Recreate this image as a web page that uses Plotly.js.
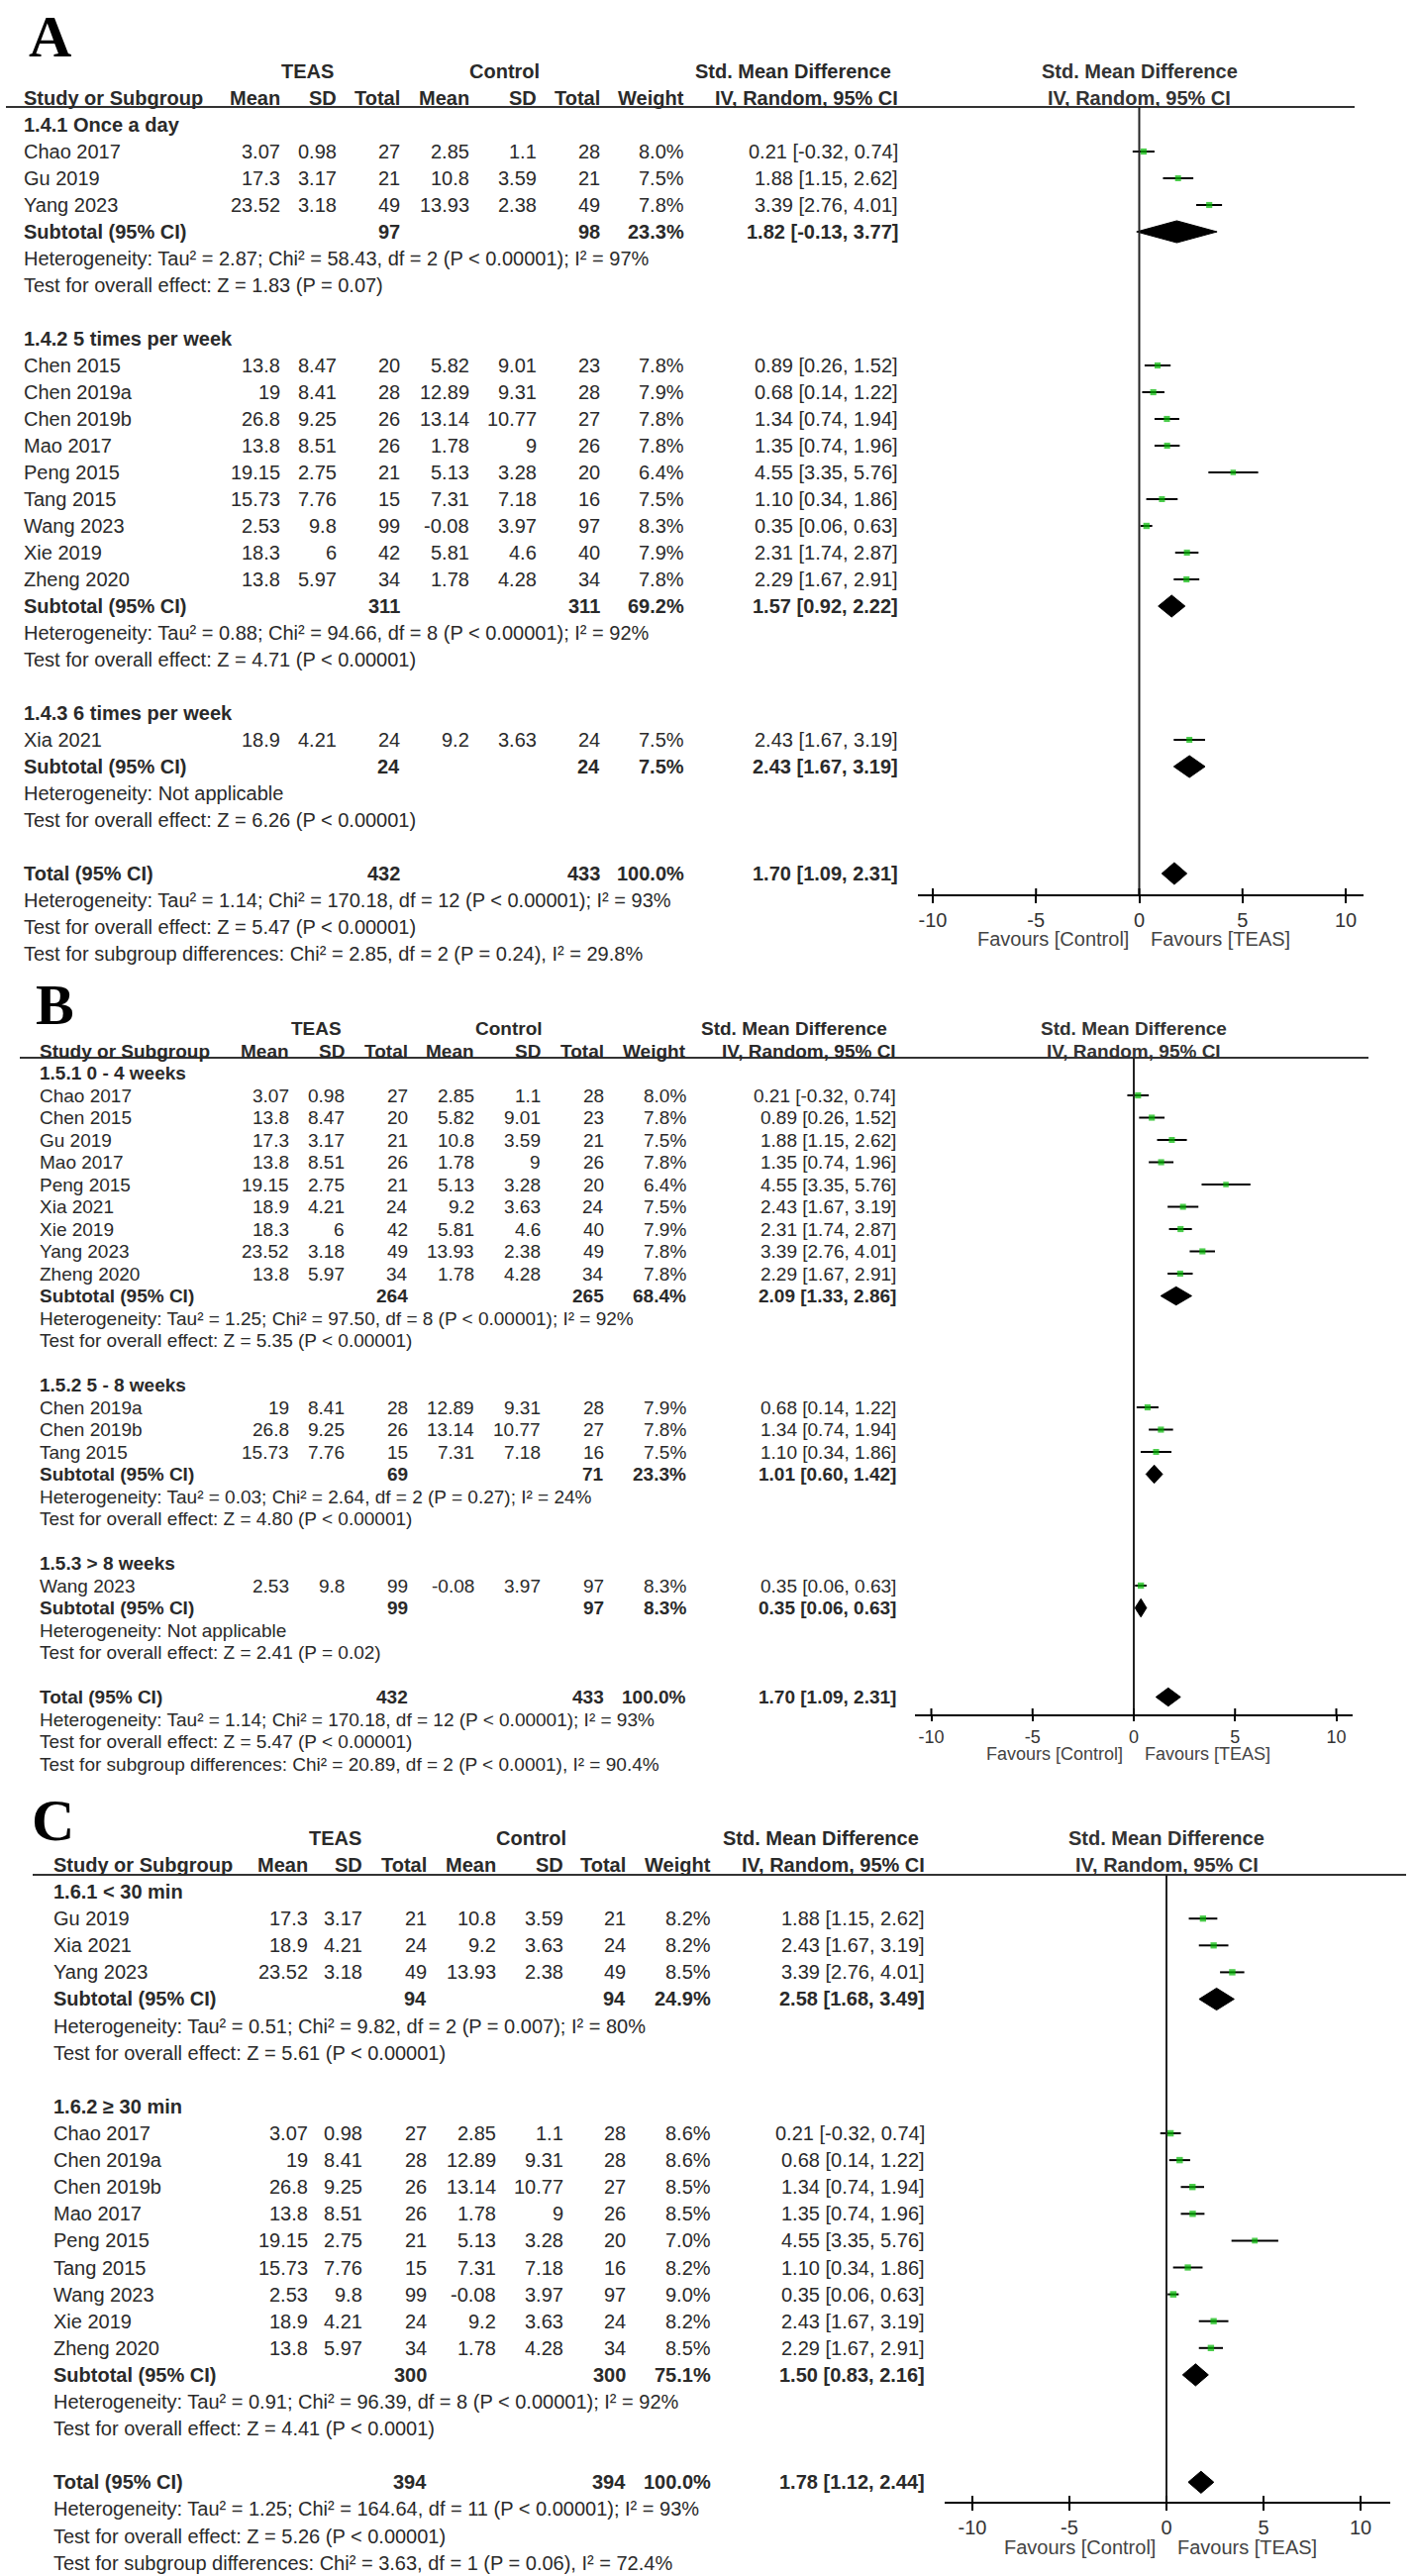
<!DOCTYPE html>
<html><head><meta charset="utf-8">
<script src="https://cdn.plot.ly/plotly-3.0.1.min.js"></script>
<style>html,body{margin:0;padding:0;background:#fff}</style>
</head><body><div id="chart" style="width:1430px;height:2601px"></div>
<script>
// ================= PANEL A : frequency =================
const A_groups = ["1.4.1 Once a day", "1.4.2 5 times per week", "1.4.3 6 times per week"];
const A_study = ["Chao 2017","Gu 2019","Yang 2023","Chen 2015","Chen 2019a","Chen 2019b","Mao 2017","Peng 2015","Tang 2015","Wang 2023","Xie 2019","Zheng 2020","Xia 2021"];
const A_studyGroup = [0,0,0,1,1,1,1,1,1,1,1,1,2];
const A_teasMean = [3.07,17.3,23.52,13.8,19,26.8,13.8,19.15,15.73,2.53,18.3,13.8,18.9];
const A_teasSD = [0.98,3.17,3.18,8.47,8.41,9.25,8.51,2.75,7.76,9.8,6,5.97,4.21];
const A_teasN = [27,21,49,20,28,26,26,21,15,99,42,34,24];
const A_ctrlMean = [2.85,10.8,13.93,5.82,12.89,13.14,1.78,5.13,7.31,-0.08,5.81,1.78,9.2];
const A_ctrlSD = [1.1,3.59,2.38,9.01,9.31,10.77,9,3.28,7.18,3.97,4.6,4.28,3.63];
const A_ctrlN = [28,21,49,23,28,27,26,20,16,97,40,34,24];
const A_weight = [8.0,7.5,7.8,7.8,7.9,7.8,7.8,6.4,7.5,8.3,7.9,7.8,7.5];
const A_smd = [0.21,1.88,3.39,0.89,0.68,1.34,1.35,4.55,1.10,0.35,2.31,2.29,2.43];
const A_lo = [-0.32,1.15,2.76,0.26,0.14,0.74,0.74,3.35,0.34,0.06,1.74,1.67,1.67];
const A_hi = [0.74,2.62,4.01,1.52,1.22,1.94,1.96,5.76,1.86,0.63,2.87,2.91,3.19];
const A_subTeasN = [97,311,24];
const A_subCtrlN = [98,311,24];
const A_subWeight = [23.3,69.2,7.5];
const A_subSmd = [1.82,1.57,2.43];
const A_subLo = [-0.13,0.92,1.67];
const A_subHi = [3.77,2.22,3.19];
const A_subHet = ["Heterogeneity: Tau² = 2.87; Chi² = 58.43, df = 2 (P < 0.00001); I² = 97%",
                  "Heterogeneity: Tau² = 0.88; Chi² = 94.66, df = 8 (P < 0.00001); I² = 92%",
                  "Heterogeneity: Not applicable"];
const A_subTest = ["Test for overall effect: Z = 1.83 (P = 0.07)",
                   "Test for overall effect: Z = 4.71 (P < 0.00001)",
                   "Test for overall effect: Z = 6.26 (P < 0.00001)"];
const A_totalN = [432, 433];
const A_totalWeight = [100.0];
const A_totalEffect = [1.70, 1.09, 2.31];
const A_totalText = ["Heterogeneity: Tau² = 1.14; Chi² = 170.18, df = 12 (P < 0.00001); I² = 93%",
                     "Test for overall effect: Z = 5.47 (P < 0.00001)",
                     "Test for subgroup differences: Chi² = 2.85, df = 2 (P = 0.24), I² = 29.8%"];

// ================= PANEL B : duration =================
const B_groups = ["1.5.1 0 - 4 weeks", "1.5.2 5 - 8 weeks", "1.5.3 > 8 weeks"];
const B_study = ["Chao 2017","Chen 2015","Gu 2019","Mao 2017","Peng 2015","Xia 2021","Xie 2019","Yang 2023","Zheng 2020","Chen 2019a","Chen 2019b","Tang 2015","Wang 2023"];
const B_studyGroup = [0,0,0,0,0,0,0,0,0,1,1,1,2];
const B_teasMean = [3.07,13.8,17.3,13.8,19.15,18.9,18.3,23.52,13.8,19,26.8,15.73,2.53];
const B_teasSD = [0.98,8.47,3.17,8.51,2.75,4.21,6,3.18,5.97,8.41,9.25,7.76,9.8];
const B_teasN = [27,20,21,26,21,24,42,49,34,28,26,15,99];
const B_ctrlMean = [2.85,5.82,10.8,1.78,5.13,9.2,5.81,13.93,1.78,12.89,13.14,7.31,-0.08];
const B_ctrlSD = [1.1,9.01,3.59,9,3.28,3.63,4.6,2.38,4.28,9.31,10.77,7.18,3.97];
const B_ctrlN = [28,23,21,26,20,24,40,49,34,28,27,16,97];
const B_weight = [8.0,7.8,7.5,7.8,6.4,7.5,7.9,7.8,7.8,7.9,7.8,7.5,8.3];
const B_smd = [0.21,0.89,1.88,1.35,4.55,2.43,2.31,3.39,2.29,0.68,1.34,1.10,0.35];
const B_lo = [-0.32,0.26,1.15,0.74,3.35,1.67,1.74,2.76,1.67,0.14,0.74,0.34,0.06];
const B_hi = [0.74,1.52,2.62,1.96,5.76,3.19,2.87,4.01,2.91,1.22,1.94,1.86,0.63];
const B_subTeasN = [264,69,99];
const B_subCtrlN = [265,71,97];
const B_subWeight = [68.4,23.3,8.3];
const B_subSmd = [2.09,1.01,0.35];
const B_subLo = [1.33,0.60,0.06];
const B_subHi = [2.86,1.42,0.63];
const B_subHet = ["Heterogeneity: Tau² = 1.25; Chi² = 97.50, df = 8 (P < 0.00001); I² = 92%",
                  "Heterogeneity: Tau² = 0.03; Chi² = 2.64, df = 2 (P = 0.27); I² = 24%",
                  "Heterogeneity: Not applicable"];
const B_subTest = ["Test for overall effect: Z = 5.35 (P < 0.00001)",
                   "Test for overall effect: Z = 4.80 (P < 0.00001)",
                   "Test for overall effect: Z = 2.41 (P = 0.02)"];
const B_totalN = [432, 433];
const B_totalWeight = [100.0];
const B_totalEffect = [1.70, 1.09, 2.31];
const B_totalText = ["Heterogeneity: Tau² = 1.14; Chi² = 170.18, df = 12 (P < 0.00001); I² = 93%",
                     "Test for overall effect: Z = 5.47 (P < 0.00001)",
                     "Test for subgroup differences: Chi² = 20.89, df = 2 (P < 0.0001), I² = 90.4%"];

// ================= PANEL C : session length =================
const C_groups = ["1.6.1 < 30 min", "1.6.2 ≥ 30 min"];
const C_study = ["Gu 2019","Xia 2021","Yang 2023","Chao 2017","Chen 2019a","Chen 2019b","Mao 2017","Peng 2015","Tang 2015","Wang 2023","Xie 2019","Zheng 2020"];
const C_studyGroup = [0,0,0,1,1,1,1,1,1,1,1,1];
const C_teasMean = [17.3,18.9,23.52,3.07,19,26.8,13.8,19.15,15.73,2.53,18.9,13.8];
const C_teasSD = [3.17,4.21,3.18,0.98,8.41,9.25,8.51,2.75,7.76,9.8,4.21,5.97];
const C_teasN = [21,24,49,27,28,26,26,21,15,99,24,34];
const C_ctrlMean = [10.8,9.2,13.93,2.85,12.89,13.14,1.78,5.13,7.31,-0.08,9.2,1.78];
const C_ctrlSD = [3.59,3.63,2.38,1.1,9.31,10.77,9,3.28,7.18,3.97,3.63,4.28];
const C_ctrlN = [21,24,49,28,28,27,26,20,16,97,24,34];
const C_weight = [8.2,8.2,8.5,8.6,8.6,8.5,8.5,7.0,8.2,9.0,8.2,8.5];
const C_smd = [1.88,2.43,3.39,0.21,0.68,1.34,1.35,4.55,1.10,0.35,2.43,2.29];
const C_lo = [1.15,1.67,2.76,-0.32,0.14,0.74,0.74,3.35,0.34,0.06,1.67,1.67];
const C_hi = [2.62,3.19,4.01,0.74,1.22,1.94,1.96,5.76,1.86,0.63,3.19,2.91];
const C_subTeasN = [94,300];
const C_subCtrlN = [94,300];
const C_subWeight = [24.9,75.1];
const C_subSmd = [2.58,1.50];
const C_subLo = [1.68,0.83];
const C_subHi = [3.49,2.16];
const C_subHet = ["Heterogeneity: Tau² = 0.51; Chi² = 9.82, df = 2 (P = 0.007); I² = 80%",
                  "Heterogeneity: Tau² = 0.91; Chi² = 96.39, df = 8 (P < 0.00001); I² = 92%"];
const C_subTest = ["Test for overall effect: Z = 5.61 (P < 0.00001)",
                   "Test for overall effect: Z = 4.41 (P < 0.0001)"];
const C_totalN = [394, 394];
const C_totalWeight = [100.0];
const C_totalEffect = [1.78, 1.12, 2.44];
const C_totalText = ["Heterogeneity: Tau² = 1.25; Chi² = 164.64, df = 11 (P < 0.00001); I² = 93%",
                     "Test for overall effect: Z = 5.26 (P < 0.00001)",
                     "Test for subgroup differences: Chi² = 3.63, df = 1 (P = 0.06), I² = 72.4%"];

// ================= shared labels =================
const PANEL_LETTERS = ["A", "B", "C"];
const TICK_VALUES = [-10, -5, 0, 5, 10];
const TICK_LABELS = ["-10", "-5", "0", "5", "10"];
const FAVOURS = ["Favours [Control]", "Favours [TEAS]"];
const HEAD_GROUPS = ["TEAS", "Control", "Std. Mean Difference"];
const HEAD_COLS = ["Study or Subgroup", "Mean", "SD", "Total", "Mean", "SD", "Total", "Weight", "IV, Random, 95% CI"];
const PLOT_HEAD = ["Std. Mean Difference", "IV, Random, 95% CI"];

// ================= layout geometry (pixels) =================
const W = 1430, H = 2601;
const FONT = 'Arial, "Liberation Sans", Helvetica, sans-serif';
const SERIF = '"Times New Roman", "Liberation Serif", serif';
const TXT = '#2a2a2a';
const GREEN = '#00b800';

const GEO = [
  {top:0, bottom:975, p0:99, s:27, hdrLine:108, lineX:[6,1368], axisPx:904, favPx:948, zero:1150.5, ppu:20.85, axisX:[927,1377],
   font:20, axFont:20, tickLen:7, letter:[50,2,60],
   cols:{name:22, tm:285, tsd:342, tn:406, cm:476, csd:544, cn:608, w:693, ci:909, teasHdr:310, ctrlHdr:509, smdHdr:801}},
  {top:975, bottom:1800, p0:1061, s:22.5, hdrLine:1068, lineX:[20,1382], axisPx:1732, favPx:1771, zero:1145, ppu:20.45, axisX:[924,1366],
   font:19, axFont:18, tickLen:5, letter:[55,980,58],
   cols:{name:38, tm:294, tsd:350, tn:414, cm:481, csd:548, cn:612, w:695, ci:907, teasHdr:319, ctrlHdr:514, smdHdr:802}},
  {top:1800, bottom:2601, p0:1883, s:27.1, hdrLine:1893, lineX:[33,1420], axisPx:2527, favPx:2572, zero:1178, ppu:19.6, axisX:[954,1404],
   font:20, axFont:20, tickLen:7, letter:[53,1803,60],
   cols:{name:52, tm:313, tsd:368, tn:433, cm:503, csd:571, cn:634, w:720, ci:936, teasHdr:338, ctrlHdr:536, smdHdr:829}}
];

const PANELS = [
  {groups:A_groups, study:A_study, grp:A_studyGroup, tm:A_teasMean, tsd:A_teasSD, tn:A_teasN, cm:A_ctrlMean, csd:A_ctrlSD, cn:A_ctrlN, w:A_weight, smd:A_smd, lo:A_lo, hi:A_hi,
   subTn:A_subTeasN, subCn:A_subCtrlN, subW:A_subWeight, subSmd:A_subSmd, subLo:A_subLo, subHi:A_subHi, subHet:A_subHet, subTest:A_subTest,
   totN:A_totalN, totW:A_totalWeight, totE:A_totalEffect, totText:A_totalText},
  {groups:B_groups, study:B_study, grp:B_studyGroup, tm:B_teasMean, tsd:B_teasSD, tn:B_teasN, cm:B_ctrlMean, csd:B_ctrlSD, cn:B_ctrlN, w:B_weight, smd:B_smd, lo:B_lo, hi:B_hi,
   subTn:B_subTeasN, subCn:B_subCtrlN, subW:B_subWeight, subSmd:B_subSmd, subLo:B_subLo, subHi:B_subHi, subHet:B_subHet, subTest:B_subTest,
   totN:B_totalN, totW:B_totalWeight, totE:B_totalEffect, totText:B_totalText},
  {groups:C_groups, study:C_study, grp:C_studyGroup, tm:C_teasMean, tsd:C_teasSD, tn:C_teasN, cm:C_ctrlMean, csd:C_ctrlSD, cn:C_ctrlN, w:C_weight, smd:C_smd, lo:C_lo, hi:C_hi,
   subTn:C_subTeasN, subCn:C_subCtrlN, subW:C_subWeight, subSmd:C_subSmd, subLo:C_subLo, subHi:C_subHi, subHet:C_subHet, subTest:C_subTest,
   totN:C_totalN, totW:C_totalWeight, totE:C_totalEffect, totText:C_totalText}
];

const traces = [], annotations = [], shapes = [];
const layout = {width:W, height:H, margin:{l:0,r:0,t:0,b:0}, paper_bgcolor:'#fff', plot_bgcolor:'rgba(0,0,0,0)',
  showlegend:false, hovermode:false};

const esc = s => String(s).replace(/&/g,'&amp;').replace(/</g,'&lt;').replace(/>/g,'&gt;');
const ci = (e,l,h) => `${e.toFixed(2)} [${l.toFixed(2)}, ${h.toFixed(2)}]`;

PANELS.forEach((D, k) => {
  const G = GEO[k];
  const sfx = k === 0 ? '' : String(k + 1);
  const xa = 'x' + sfx, ya = 'y' + sfx;
  const row = px => (px - G.p0) / G.s;
  const C = G.cols;
  layout['yaxis' + sfx] = {domain:[1 - G.bottom / H, 1 - G.top / H], range:[row(G.bottom), row(G.top)],
    visible:false, fixedrange:true, anchor:xa};
  layout['xaxis' + sfx] = {domain:[G.axisX[0] / W, G.axisX[1] / W],
    range:[(G.axisX[0] - G.zero) / G.ppu, (G.axisX[1] - G.zero) / G.ppu],
    anchor:'free', position:1 - G.axisPx / H, showline:true, linecolor:'#000', linewidth:2,
    ticks:'outside', ticklen:G.tickLen, tickwidth:2, tickcolor:'#000',
    tickmode:'array', tickvals:TICK_VALUES, ticktext:TICK_LABELS,
    tickfont:{family:FONT, size:G.axFont, color:'#333'}, showgrid:false, zeroline:false, fixedrange:true};

  const T = (xPx, r, text, anchor, bold) => annotations.push({xref:'paper', yref:ya, x:xPx / W, y:r,
    text: bold ? '<b>' + esc(text) + '</b>' : esc(text), xanchor:anchor, yanchor:'middle', showarrow:false,
    font:{family:FONT, size:G.font, color:TXT}});

  // panel letter
  annotations.push({xref:'paper', yref:'paper', x:G.letter[0] / W, y:1 - G.letter[1] / H, text:'<b>' + PANEL_LETTERS[k] + '</b>',
    xanchor:'center', yanchor:'top', showarrow:false, font:{family:SERIF, size:G.letter[2], color:'#000'}});

  // table headers
  T(C.teasHdr, -1, HEAD_GROUPS[0], 'center', true);
  T(C.ctrlHdr, -1, HEAD_GROUPS[1], 'center', true);
  T(C.smdHdr, -1, HEAD_GROUPS[2], 'center', true);
  T(C.name, 0, HEAD_COLS[0], 'left', true);
  [C.tm, C.tsd, C.tn, C.cm, C.csd, C.cn, C.w, C.ci].forEach((x, i) => T(x, 0, HEAD_COLS[i + 1], 'right', true));
  PLOT_HEAD.forEach((t, i) => annotations.push({xref:xa, yref:ya, x:0, y:i - 1, text:'<b>' + esc(t) + '</b>',
    xanchor:'center', yanchor:'middle', showarrow:false, font:{family:FONT, size:G.font, color:'#333'}}));

  shapes.push({type:'line', xref:'paper', yref:ya, x0:G.lineX[0] / W, x1:G.lineX[1] / W,
    y0:row(G.hdrLine), y1:row(G.hdrLine), line:{color:'#333', width:2}});

  const ciX = [], ciY = [], mX = [], mY = [], mS = [];
  const diamonds = [];
  let r = 1;
  D.groups.forEach((g, gi) => {
    T(C.name, r, g, 'left', true); r++;
    D.study.forEach((s, i) => {
      if (D.grp[i] !== gi) return;
      T(C.name, r, s, 'left', false);
      T(C.tm, r, D.tm[i], 'right'); T(C.tsd, r, D.tsd[i], 'right'); T(C.tn, r, D.tn[i], 'right');
      T(C.cm, r, D.cm[i], 'right'); T(C.csd, r, D.csd[i], 'right'); T(C.cn, r, D.cn[i], 'right');
      T(C.w, r, D.w[i].toFixed(1) + '%', 'right');
      T(C.ci, r, ci(D.smd[i], D.lo[i], D.hi[i]), 'right');
      ciX.push(D.lo[i], D.hi[i], null); ciY.push(r, r, null);
      mX.push(D.smd[i]); mY.push(r); mS.push(2.2 * Math.sqrt(D.w[i]));
      r++;
    });
    T(C.name, r, 'Subtotal (95% CI)', 'left', true);
    T(C.tn, r, D.subTn[gi], 'right', true); T(C.cn, r, D.subCn[gi], 'right', true);
    T(C.w, r, D.subW[gi].toFixed(1) + '%', 'right', true);
    T(C.ci, r, ci(D.subSmd[gi], D.subLo[gi], D.subHi[gi]), 'right', true);
    diamonds.push([D.subLo[gi], D.subSmd[gi], D.subHi[gi], r]);
    r++;
    T(C.name, r, D.subHet[gi], 'left', false); r++;
    T(C.name, r, D.subTest[gi], 'left', false); r++;
    r++;
  });
  T(C.name, r, 'Total (95% CI)', 'left', true);
  T(C.tn, r, D.totN[0], 'right', true); T(C.cn, r, D.totN[1], 'right', true);
  T(C.w, r, D.totW[0].toFixed(1) + '%', 'right', true);
  T(C.ci, r, ci(D.totE[0], D.totE[1], D.totE[2]), 'right', true);
  diamonds.push([D.totE[1], D.totE[0], D.totE[2], r]);
  D.totText.forEach((t, i) => T(C.name, r + 1 + i, t, 'left', false));

  // zero line
  shapes.push({type:'line', xref:xa, yref:ya, x0:0, x1:0, y0:row(G.hdrLine), y1:row(G.axisPx), line:{color:'#222', width:2}});
  // upper half of tick marks (ticks cross the axis)
  TICK_VALUES.forEach(t => shapes.push({type:'line', xref:xa, yref:ya, x0:t, x1:t, ysizemode:'pixel', yanchor:row(G.axisPx),
    y0:0, y1:7, line:{color:'#000', width:2}}));

  // favours labels
  annotations.push({xref:xa, yref:ya, x:0, y:row(G.favPx), xshift:-9, text:esc(FAVOURS[0]), xanchor:'right', yanchor:'middle',
    showarrow:false, font:{family:FONT, size:G.axFont, color:'#444'}});
  annotations.push({xref:xa, yref:ya, x:0, y:row(G.favPx), xshift:9, text:esc(FAVOURS[1]), xanchor:'left', yanchor:'middle',
    showarrow:false, font:{family:FONT, size:G.axFont, color:'#444'}});

  traces.push({type:'scatter', mode:'lines', x:ciX, y:ciY, xaxis:xa, yaxis:ya, line:{color:'#000', width:2}, hoverinfo:'skip'});
  traces.push({type:'scatter', mode:'markers', x:mX, y:mY, xaxis:xa, yaxis:ya,
    marker:{symbol:'square', color:GREEN, size:mS, line:{width:0}}, hoverinfo:'skip'});
  diamonds.forEach(([lo, e, hi, rr]) => {
    const h = 0.41;
    traces.push({type:'scatter', mode:'lines', x:[lo, e, hi, e, lo], y:[rr, rr - h, rr, rr + h, rr], xaxis:xa, yaxis:ya,
      fill:'toself', fillcolor:'#000', line:{color:'#000', width:1}, hoverinfo:'skip'});
  });
});

layout.annotations = annotations;
layout.shapes = shapes;
Plotly.newPlot('chart', traces, layout, {displayModeBar:false, staticPlot:true});
</script>
</body></html>
